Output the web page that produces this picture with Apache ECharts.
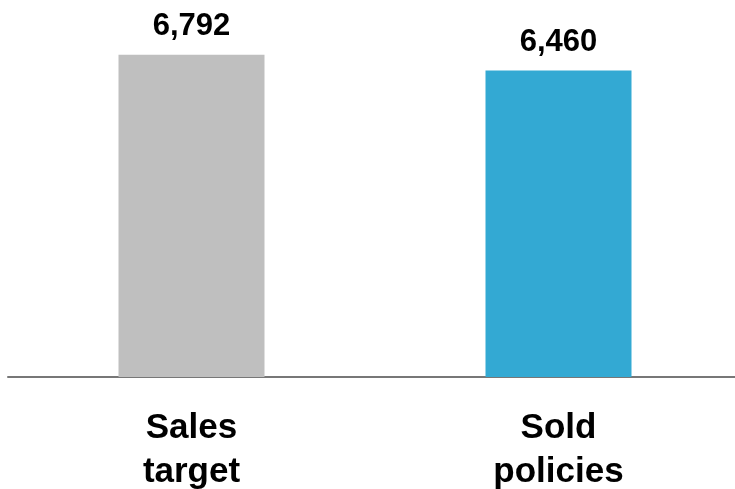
<!DOCTYPE html>
<html>
<head>
<meta charset="utf-8">
<style>
  html, body { margin: 0; padding: 0; background: #ffffff; }
  #chart { width: 735px; height: 489px; }
</style>
<script src="https://cdn.jsdelivr.net/npm/echarts@6/dist/echarts.min.js"></script>
</head>
<body>
<div id="chart"></div>
<script>
// Policy sales versus target
const categories = ['Sales\ntarget', 'Sold\npolicies'];
const values = [6792, 6460];
const barColors = ['#BFBFBF', '#33A9D3'];

const chart = echarts.init(document.getElementById('chart'), null, { renderer: 'canvas' });
const fontFamily = '"Liberation Sans", Arial, Helvetica, sans-serif';

chart.setOption({
  animation: false,
  // the grid runs a little past the right edge so the two category slots stay 367px apart
  grid: {
    left: 8, width: 734, top: 45, bottom: 112,
    containLabel: false,
    outerBoundsMode: 'none'
  },
  xAxis: {
    type: 'category',
    data: categories,
    axisLine: { show: true, lineStyle: { color: '#777777', width: 2 } },
    axisTick: { show: false },
    axisLabel: {
      margin: 29,
      color: '#000000',
      fontFamily: fontFamily,
      fontWeight: 'bold',
      fontSize: 35,
      lineHeight: 44
    }
  },
  yAxis: {
    type: 'value',
    min: 0,
    max: 7000,
    show: false,
    splitLine: { show: false }
  },
  series: [{
    type: 'bar',
    barWidth: 146,
    data: values.map((v, i) => ({ value: v, itemStyle: { color: barColors[i] } })),
    label: {
      show: true,
      position: 'top',
      distance: 13,
      color: '#000000',
      fontFamily: fontFamily,
      fontWeight: 'bold',
      fontSize: 31,
      formatter: p => p.value.toLocaleString('en-US')
    }
  }]
});
</script>
</body>
</html>
